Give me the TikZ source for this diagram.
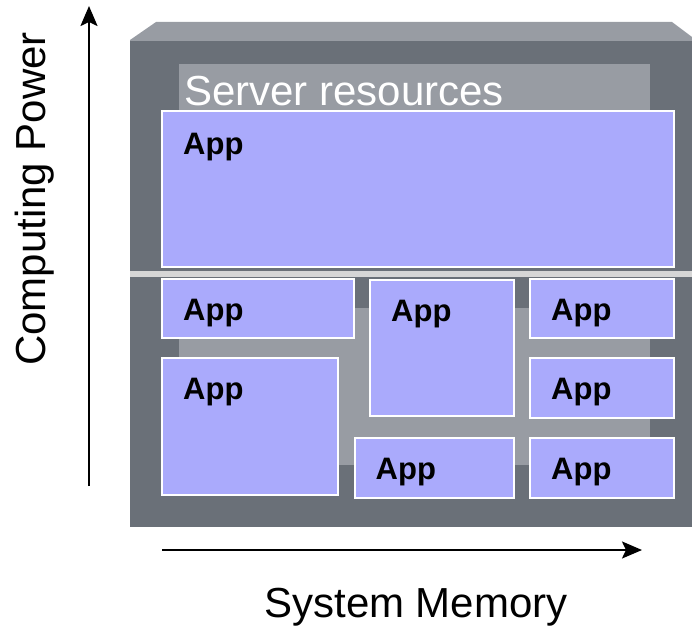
\documentclass[tikz,border=0pt]{standalone}
\usepackage{fontspec}
\setmainfont{Liberation Sans}
\usetikzlibrary{arrows.meta}

\definecolor{serverdark}{RGB}{106,112,120}
\definecolor{serverlight}{RGB}{152,156,163}
\definecolor{appblue}{RGB}{170,170,252}
\definecolor{splitgray}{RGB}{214,214,214}

\begin{document}
\begin{tikzpicture}[x=1pt, y=-1pt,
	app node/.style={rectangle, draw=white, fill=appblue, line width=2pt, outer sep=0pt, inner sep=0pt, anchor=north west},
	app label/.style={anchor=base west, inner sep=0pt, xshift=21pt, yshift=-41pt, font=\fontsize{31}{36}\selectfont\bfseries},
	axis arrow/.style={line width=2.2pt, -{Stealth[length=20pt, width=17pt, inset=4pt]}},
	axis text/.style={inner sep=0pt, font=\fontsize{42}{48}\selectfont}]
	\useasboundingbox (0,0) rectangle (692,626);
	% server box
	\fill[serverlight] (130,41) -- (130,40) -- (156,22) -- (672,22) -- (692,37) -- (692,41) -- cycle;
	\fill[serverdark] (130,41) rectangle (692,527);
	\fill[serverlight] (179,64) rectangle (650,112);
	\fill[serverlight] (179,308) rectangle (650,465);
	\fill[splitgray] (130,271) rectangle (692,277);
	\node[anchor=base west, inner sep=0pt, text=white, font=\fontsize{42}{48}\selectfont] (res) at (184,105) {Server resources};
	% apps
	\node[app node, minimum width=511.5, minimum height=156, label={[app label, yshift=-2pt]north west:App}] (big) at (162,111) {};
	\node[app node, minimum width=191.5, minimum height=59, label={[app label]north west:App}] (a1) at (162,279) {};
	\node[app node, minimum width=144, minimum height=135.5, label={[app label]north west:App}] (a2) at (370,280) {};
	\node[app node, minimum width=143.5, minimum height=59, label={[app label]north west:App}] (a3) at (530,279) {};
	\node[app node, minimum width=176, minimum height=137, label={[app label]north west:App}] (a4) at (162,358) {};
	\node[app node, minimum width=143.5, minimum height=60, label={[app label]north west:App}] (a5) at (530,358) {};
	\node[app node, minimum width=159.5, minimum height=60, label={[app label]north west:App}] (a6) at (354.5,438) {};
	\node[app node, minimum width=143.5, minimum height=60, label={[app label]north west:App}] (a7) at (530,438) {};
	% axes
	\coordinate (cpu0) at (89,486);
	\coordinate (cpu1) at (89,6);
	\coordinate (mem0) at (162,550);
	\coordinate (mem1) at (642,550);
	\draw[axis arrow] (cpu0) -- (cpu1);
	\draw[axis arrow] (mem0) -- (mem1);
	\node[axis text, rotate=90, anchor=base] (cpu) at (45,199) {Computing Power};
	\node[axis text, anchor=base] (mem) at (416,617) {System Memory};
\end{tikzpicture}
\end{document}
